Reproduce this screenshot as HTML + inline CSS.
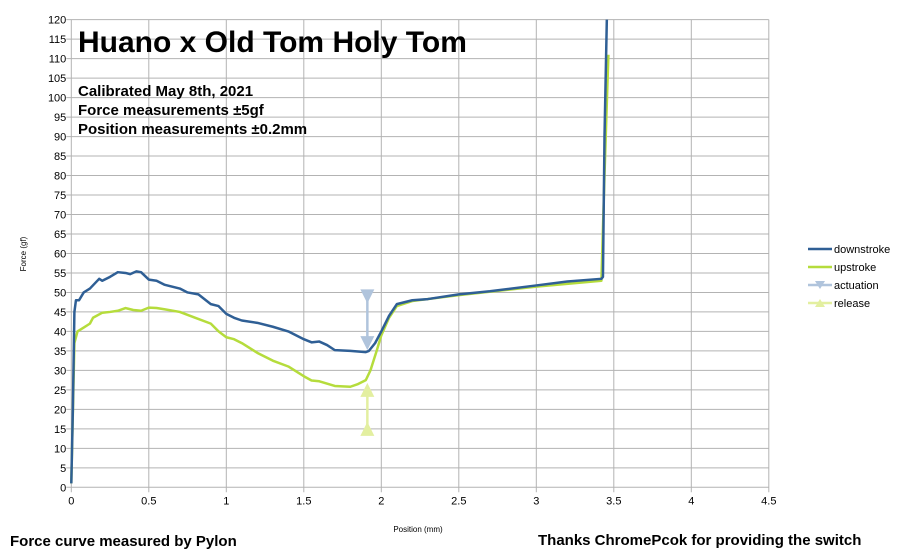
<!DOCTYPE html>
<html><head><meta charset="utf-8"><style>
body{margin:0;background:#fff;}
svg{display:block;font-family:"Liberation Sans",sans-serif;}
</style></head><body>
<svg id="chart" width="908" height="551" xmlns="http://www.w3.org/2000/svg">
<g id="grid"></g>
<g id="series"></g>
<g id="axes"></g>
<text x="78" y="52" font-size="30" font-weight="bold" fill="#000">Huano x Old Tom Holy Tom</text>
<text x="78" y="96" font-size="15" font-weight="bold">Calibrated May 8th, 2021</text>
<text x="78" y="115" font-size="15" font-weight="bold">Force measurements ±5gf</text>
<text x="78" y="134" font-size="15" font-weight="bold">Position measurements ±0.2mm</text>
<text transform="translate(26,254) rotate(-90)" font-size="8" text-anchor="middle">Force (gf)</text>
<text x="418" y="532" font-size="8" text-anchor="middle">Position (mm)</text>
<text x="10" y="546" font-size="15" font-weight="bold">Force curve measured by Pylon</text>
<text x="538" y="545" font-size="15" font-weight="bold">Thanks ChromePcok for providing the switch</text>
<g id="legend"></g>
</svg>
<script>
const xTicks=[0,0.5,1,1.5,2,2.5,3,3.5,4,4.5];
const yTicks=[0,5,10,15,20,25,30,35,40,45,50,55,60,65,70,75,80,85,90,95,100,105,110,115,120];
const downX=[0,0.01,0.02,0.03,0.05,0.08,0.12,0.18,0.2,0.25,0.3,0.35,0.38,0.42,0.45,0.5,0.55,0.6,0.7,0.75,0.82,0.9,0.95,1.0,1.05,1.1,1.2,1.3,1.4,1.5,1.55,1.6,1.65,1.7,1.8,1.9,1.92,1.96,2.0,2.05,2.1,2.2,2.3,2.5,2.7,3.0,3.2,3.42,3.43,3.44,3.455];
const downY=[1,20,45,48,48,50,51,53.5,53,54,55.2,55,54.7,55.4,55.2,53.3,53,52,51,50,49.5,47,46.5,44.5,43.5,42.8,42.2,41.2,40,38,37.2,37.4,36.5,35.2,35,34.7,35,37,40,44,47,48,48.3,49.5,50.3,51.8,52.8,53.5,54,90,120];
const upX=[0,0.02,0.04,0.08,0.12,0.14,0.2,0.25,0.3,0.35,0.4,0.45,0.5,0.55,0.6,0.7,0.8,0.9,0.95,1.0,1.05,1.1,1.2,1.3,1.4,1.5,1.55,1.6,1.7,1.8,1.85,1.9,1.93,1.97,2.0,2.05,2.1,2.2,2.5,3.0,3.42,3.44,3.465];
const upY=[1,37,40,41,42,43.5,44.8,45,45.3,46,45.5,45.3,46.1,46,45.7,45,43.5,42,40,38.5,38,37,34.5,32.5,31,28.5,27.4,27.2,26,25.8,26.5,27.5,30,35,39,43.5,46.5,47.8,49.3,51.5,53,80,111];
const actX=[1.91,1.91];const actY=[49,37];
const relX=[1.91,1.91];const relY=[25,15];
const legendLabels=["downstroke","upstroke","actuation","release"];
const colors=["#2f5f95","#b5dc3c","#b0c4dc","#e3efa0"];

const X=v=>71.3+v*155, Y=v=>487.3-v*3.897;
const NS="http://www.w3.org/2000/svg";
function mk(t,a,p){const e=document.createElementNS(NS,t);for(const k in a)e.setAttribute(k,a[k]);p.appendChild(e);return e;}
const grid=document.getElementById('grid'),axes=document.getElementById('axes'),ser=document.getElementById('series'),leg=document.getElementById('legend');
yTicks.forEach(t=>{
 const l=mk('line',{x1:X(0)-5,x2:X(4.5),y1:Y(t),y2:Y(t),stroke:'#b3b3b3','stroke-width':1},grid);
 
 
 const tx=mk('text',{x:X(0)-5,y:Y(t)+4,'font-size':11,'text-anchor':'end',fill:'#000'},axes);tx.textContent=t;
 
 
});
xTicks.forEach(t=>{
 const l=mk('line',{x1:X(t),x2:X(t),y1:Y(120),y2:Y(0)+5,stroke:'#b3b3b3','stroke-width':1},grid);
 
 
 const tx=mk('text',{x:X(t),y:Y(0)+17,'font-size':11,'text-anchor':'middle',fill:'#000'},axes);tx.textContent=t;
 
 
});
function line(xs,ys,c,w,name){const p=mk('polyline',{points:xs.map((x,i)=>X(x)+','+Y(ys[i])).join(' '),fill:'none',stroke:c,'stroke-width':w,'stroke-linejoin':'round'},ser);
 
 }
function tri(x,y,c,down,name){const cx=X(x),cy=Y(y);const pts=down?`${cx-7},${cy-7} ${cx+7},${cy-7} ${cx},${cy+7}`:`${cx-7},${cy+7} ${cx+7},${cy+7} ${cx},${cy-7}`;
 const t=mk('polygon',{points:pts,fill:c},ser);
 
 }
line(actX,actY,colors[2],2.5,'actuation-line');
actX.forEach((x,i)=>tri(x,actY[i],colors[2],true,'actuation-marker'));
line(relX,relY,colors[3],2.5,'release-line');
relX.forEach((x,i)=>tri(x,relY[i],colors[3],false,'release-marker'));
line(upX,upY,colors[1],2.5,'upstroke-line');
line(downX,downY,colors[0],2.5,'downstroke-line');
legendLabels.forEach((lab,i)=>{
 const y=249+i*18;
 const g=mk('g',{},leg);
 
 
 mk('line',{x1:808,x2:832,y1:y,y2:y,stroke:colors[i],'stroke-width':2.5},g);
 if(i==2)mk('polygon',{points:`${815},${y-4} ${825},${y-4} ${820},${y+4}`,fill:colors[i]},g);
 if(i==3)mk('polygon',{points:`${815},${y+4} ${825},${y+4} ${820},${y-4}`,fill:colors[i]},g);
 const t=mk('text',{x:834,y:y+4,'font-size':11,fill:'#000'},g);t.textContent=lab;
});
</script>
</body></html>
